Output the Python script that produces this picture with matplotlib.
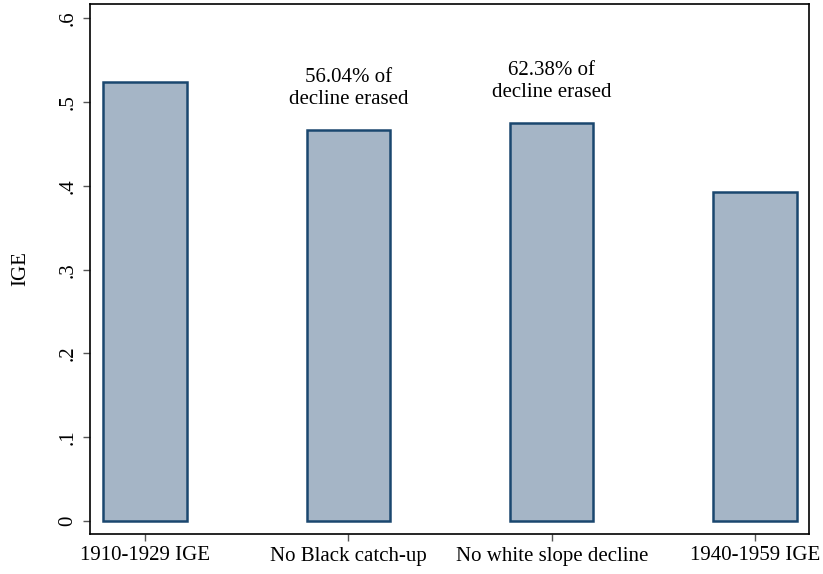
import numpy as np
import matplotlib
matplotlib.use('Agg')
import matplotlib.pyplot as plt

plt.rcParams['font.family'] = ['Liberation Serif', 'DejaVu Serif']

categories = ['1910-1929 IGE', 'No Black catch-up', 'No white slope decline', '1940-1959 IGE']
ige = [0.5245, 0.4665, 0.4748, 0.3925]
notes = ['', '56.04% of\ndecline erased', '62.38% of\ndecline erased', '']

fig = plt.figure(figsize=(8.23, 5.74), dpi=100)
ax = fig.add_axes([90/823, 1-534/574, (809-90)/823, (534-4)/574])

x = np.arange(1, len(categories)+1)
ax.bar(x, ige, width=0.41, color='#a5b5c6', edgecolor='#1a476f', linewidth=1.8, zorder=2)

for xi, v, n in zip(x, ige, notes):
    if n:
        ax.annotate(n, (xi, v), xytext=(0, 15), textcoords='offset points',
                    ha='center', va='bottom', fontsize=15, linespacing=1.25)

ax.set_xlim(0.73, 4.265)
ax.set_ylim(-0.0155, 0.617)
ax.set_xticks(x)
ax.set_xticklabels(categories, fontsize=15)
yt = [0, .1, .2, .3, .4, .5, .6]
ax.set_yticks(yt)
ax.set_yticklabels(['0', '.1', '.2', '.3', '.4', '.5', '.6'], fontsize=15, rotation=90, va='center')
ax.tick_params(axis='both', length=5, width=1, color='#555555', pad=4)
ax.set_ylabel('IGE', fontsize=15, labelpad=20)
for s in ax.spines.values():
    s.set_linewidth(1.2)

fig.savefig('out.png', dpi=100)
